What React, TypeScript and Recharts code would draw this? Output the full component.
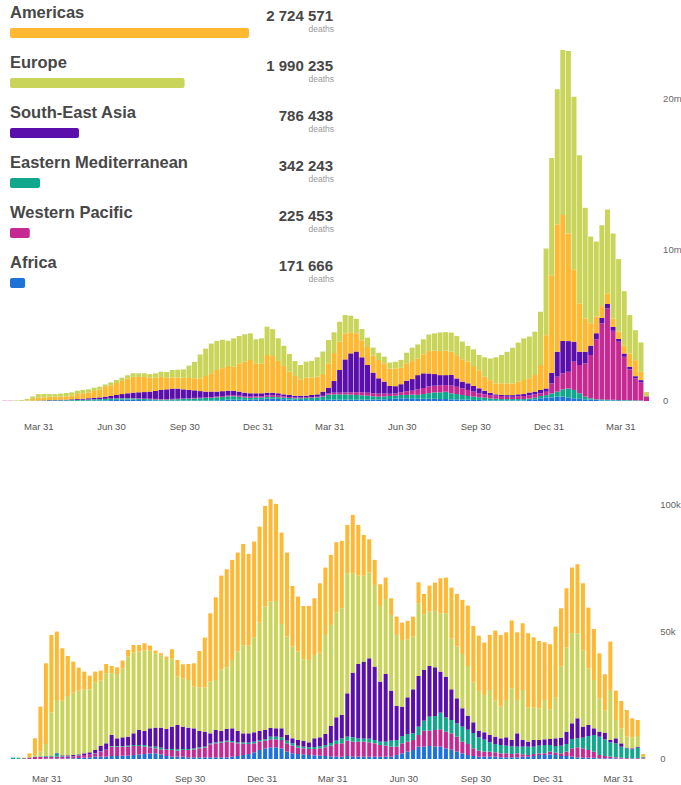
import { BarChart, Bar, XAxis, YAxis, LabelList, Cell } from 'recharts';

// regions as listed in the legend, with cumulative deaths
const regionNames = ['Americas', 'Europe', 'South-East Asia', 'Eastern Mediterranean', 'Western Pacific', 'Africa'];
const regionColors = ['#FFB832', '#C9D55A', '#5A0FAD', '#10A88C', '#C62A92', '#1E73D8'];
const totalDeaths = [2724571, 1990235, 786438, 342243, 225453, 171666];

// weekly categories (Mondays), first week 2020-02-17
const DAY = 86400000;
const startMs = Date.UTC(2020, 1, 17);
const weekCount = 116;
const weeks = Array.from({ length: weekCount }, (_, i) => new Date(startMs + i * 7 * DAY).toISOString().slice(0, 10));

const tickDates = ['2020-03-31', '2020-06-30', '2020-09-30', '2020-12-31', '2021-03-31', '2021-06-30', '2021-09-30', '2021-12-31', '2022-03-31'];
const tickLabels = ['Mar 31', 'Jun 30', 'Sep 30', 'Dec 31', 'Mar 31', 'Jun 30', 'Sep 30', 'Dec 31', 'Mar 31'];

// weekly cases, millions
const africaCases = [
  0, 0, 0, 0, 0, 0.001, 0.003, 0.004, 0.006, 0.007,
  0.009, 0.01, 0.012, 0.015, 0.02, 0.025, 0.03, 0.035, 0.045, 0.06,
  0.075, 0.09, 0.1, 0.09, 0.07, 0.06, 0.05, 0.04, 0.035, 0.03,
  0.03, 0.03, 0.03, 0.03, 0.03, 0.03, 0.03, 0.03, 0.04, 0.05,
  0.09, 0.09, 0.09, 0.08, 0.08, 0.11, 0.12, 0.16, 0.16, 0.14,
  0.12, 0.1, 0.08, 0.07, 0.06, 0.06, 0.06, 0.07, 0.09, 0.09,
  0.09, 0.09, 0.09, 0.09, 0.09, 0.09, 0.09, 0.09, 0.11, 0.13,
  0.15, 0.18, 0.18, 0.18, 0.15, 0.15, 0.15, 0.15, 0.13, 0.13,
  0.11, 0.11, 0.09, 0.09, 0.07, 0.07, 0.04, 0.04, 0.04, 0.04,
  0.04, 0.04, 0.04, 0.04, 0.07, 0.11, 0.18, 0.24, 0.24, 0.29,
  0.29, 0.24, 0.18, 0.18, 0.11, 0.09, 0.07, 0.04, 0.04, 0.04,
  0.04, 0.02, 0.02, 0.02, 0.02, 0,
];
const emCases = [
  0, 0.001, 0.008, 0.01, 0.008, 0.015, 0.02, 0.025, 0.035, 0.035,
  0.045, 0.04, 0.05, 0.055, 0.06, 0.07, 0.08, 0.085, 0.09, 0.09,
  0.09, 0.085, 0.08, 0.08, 0.075, 0.07, 0.065, 0.065, 0.065, 0.07,
  0.08, 0.09, 0.11, 0.12, 0.14, 0.15, 0.17, 0.18, 0.2, 0.22,
  0.22, 0.22, 0.19, 0.15, 0.13, 0.12, 0.11, 0.11, 0.11, 0.11,
  0.1, 0.1, 0.1, 0.11, 0.13, 0.16, 0.18, 0.22, 0.33, 0.35,
  0.35, 0.35, 0.33, 0.31, 0.29, 0.26, 0.22, 0.2, 0.2, 0.2,
  0.2, 0.22, 0.22, 0.24, 0.26, 0.31, 0.37, 0.42, 0.44, 0.48,
  0.4, 0.35, 0.31, 0.24, 0.22, 0.18, 0.18, 0.13, 0.11, 0.09,
  0.09, 0.09, 0.09, 0.09, 0.09, 0.11, 0.15, 0.15, 0.26, 0.33,
  0.48, 0.59, 0.55, 0.33, 0.18, 0.09, 0.04, 0.07, 0.04, 0.04,
  0.02, 0.04, 0.04, 0.02, 0.02, 0,
];
const wpCases = [
  0.015, 0.008, 0.004, 0.004, 0.003, 0.004, 0.004, 0.005, 0.005, 0.004,
  0.004, 0.004, 0.004, 0.005, 0.006, 0.006, 0.007, 0.008, 0.01, 0.01,
  0.012, 0.015, 0.02, 0.025, 0.03, 0.03, 0.035, 0.035, 0.03, 0.03,
  0.03, 0.03, 0.03, 0.03, 0.035, 0.035, 0.04, 0.045, 0.05, 0.06,
  0.07, 0.07, 0.07, 0.07, 0.08, 0.08, 0.09, 0.1, 0.11, 0.1,
  0.08, 0.06, 0.05, 0.05, 0.04, 0.04, 0.04, 0.05, 0.09, 0.11,
  0.11, 0.13, 0.15, 0.18, 0.2, 0.2, 0.2, 0.2, 0.18, 0.15,
  0.15, 0.18, 0.24, 0.26, 0.35, 0.4, 0.44, 0.44, 0.46, 0.44,
  0.51, 0.48, 0.44, 0.4, 0.33, 0.26, 0.22, 0.22, 0.2, 0.2,
  0.15, 0.15, 0.18, 0.2, 0.22, 0.22, 0.18, 0.22, 0.66, 0.99,
  1.06, 1.1, 1.87, 1.87, 2.2, 2.86, 3.97, 5.02, 6.04, 4.56,
  3.86, 2.86, 2.03, 1.45, 1.19, 0.29,
];
const seaCases = [
  0, 0, 0.001, 0, 0.001, 0.003, 0.004, 0.01, 0.02, 0.022,
  0.03, 0.035, 0.045, 0.055, 0.065, 0.08, 0.1, 0.11, 0.14, 0.17,
  0.22, 0.27, 0.31, 0.36, 0.4, 0.43, 0.47, 0.52, 0.6, 0.64,
  0.68, 0.67, 0.6, 0.55, 0.5, 0.44, 0.38, 0.37, 0.33, 0.32,
  0.3, 0.3, 0.27, 0.25, 0.22, 0.2, 0.19, 0.18, 0.17, 0.16,
  0.14, 0.14, 0.12, 0.12, 0.12, 0.14, 0.16, 0.28, 0.37, 0.77,
  1.5, 2.18, 2.58, 2.69, 2.31, 1.83, 1.37, 1.01, 0.79, 0.51,
  0.48, 0.53, 0.7, 0.77, 0.95, 0.97, 0.86, 0.77, 0.68, 0.66,
  0.7, 0.55, 0.44, 0.44, 0.37, 0.33, 0.24, 0.15, 0.09, 0.07,
  0.11, 0.11, 0.13, 0.13, 0.18, 0.18, 0.22, 0.22, 0.7, 1.65,
  2.14, 2.03, 1.32, 0.88, 0.77, 0.62, 0.4, 0.37, 0.29, 0.26,
  0.18, 0.22, 0.18, 0.15, 0.15, 0.02,
];
const americasCases = [
  0, 0, 0.001, 0.005, 0.03, 0.11, 0.2, 0.2, 0.22, 0.22,
  0.2, 0.22, 0.24, 0.33, 0.36, 0.37, 0.46, 0.53, 0.64, 0.71,
  0.79, 0.86, 0.97, 1.04, 1.02, 1.0, 0.92, 0.88, 0.86, 0.77,
  0.72, 0.72, 0.77, 0.79, 0.8, 0.84, 1.03, 1.21, 1.43, 1.52,
  1.63, 1.59, 1.87, 2.05, 2.2, 1.98, 1.98, 2.49, 2.42, 2.14,
  1.87, 1.54, 1.3, 1.08, 1.19, 1.15, 1.17, 1.17, 1.61, 1.85,
  1.87, 1.72, 1.39, 1.21, 1.12, 1.19, 1.12, 1.21, 1.21, 1.15,
  1.17, 1.08, 1.15, 1.19, 1.1, 1.26, 1.48, 1.54, 1.59, 1.61,
  1.54, 1.54, 1.48, 1.43, 1.32, 1.19, 0.93, 0.84, 0.73, 0.77,
  0.77, 0.77, 0.84, 0.93, 0.95, 1.1, 1.65, 3.52, 6.45, 8.42,
  8.33, 7.12, 4.78, 3.19, 2.2, 1.48, 1.1, 0.77, 0.7, 0.55,
  0.48, 0.51, 0.88, 1.06, 0.55, 0.02,
];
const europeCases = [
  0, 0.002, 0.02, 0.05, 0.09, 0.16, 0.22, 0.22, 0.17, 0.17,
  0.2, 0.22, 0.22, 0.22, 0.22, 0.22, 0.2, 0.18, 0.17, 0.19,
  0.2, 0.22, 0.22, 0.24, 0.24, 0.24, 0.24, 0.29, 0.35, 0.38,
  0.51, 0.53, 0.55, 0.82, 1.08, 1.58, 1.81, 1.96, 1.92, 1.88,
  1.67, 1.87, 1.81, 1.81, 1.76, 1.59, 1.65, 1.87, 1.78, 1.5,
  1.34, 1.17, 0.99, 0.95, 1.06, 1.1, 1.28, 1.48, 1.54, 1.37,
  1.32, 1.21, 1.1, 0.95, 0.75, 0.62, 0.53, 0.48, 0.44, 0.4,
  0.44, 0.53, 0.7, 0.88, 0.93, 0.99, 1.1, 1.15, 1.23, 1.23,
  1.26, 1.26, 1.17, 1.04, 1.1, 1.01, 1.28, 1.43, 1.72, 1.87,
  2.09, 2.36, 2.58, 2.75, 2.75, 2.86, 3.52, 5.73, 7.75, 8.92,
  10.9, 12.05, 11.41, 9.8, 7.31, 5.73, 4.96, 5.35, 5.55, 5.62,
  4.8, 3.61, 2.53, 1.98, 1.94, 0.26,
];

// weekly deaths
const africaDeaths = [
  0, 0, 0, 0, 0, 0, 130, 130, 130, 130,
  260, 260, 390, 520, 650, 920, 920, 920, 1180, 1180,
  1310, 1310, 1570, 1830, 1960, 2230, 2230, 1830, 1180, 920,
  920, 920, 650, 650, 650, 650, 650, 650, 650, 650,
  920, 1180, 1570, 1960, 2620, 3540, 4190, 4590, 4590, 4190,
  2880, 2230, 1960, 1830, 1570, 1440, 1310, 1180, 1050, 920,
  920, 1180, 920, 920, 920, 920, 920, 920, 920, 920,
  1570, 2230, 2880, 3540, 4850, 4850, 5110, 4850, 4850, 4190,
  3800, 2880, 2230, 1570, 1180, 920, 920, 920, 920, 660,
  660, 660, 660, 920, 920, 1180, 1570, 1570, 1830, 1570,
  1180, 1180, 920, 660, 520, 520, 520, 260, 260, 260,
  260, 130, 130, 130, 130, 130,
];
const wpDeaths = [
  0, 130, 260, 520, 790, 920, 790, 790, 790, 790,
  660, 790, 920, 1050, 1180, 1310, 1970, 2620, 3670, 3670,
  3540, 3540, 3540, 3280, 2880, 2360, 1970, 1970, 2360, 2620,
  2360, 2620, 2880, 3140, 3540, 3800, 5110, 5500, 5760, 6160,
  5630, 4980, 4450, 3930, 3540, 3410, 3010, 3140, 3140, 3280,
  3280, 3010, 2490, 2360, 2360, 2490, 2880, 3410, 4190, 4980,
  5240, 6030, 5900, 5900, 5900, 5630, 5240, 4590, 4320, 3930,
  3280, 3930, 3930, 3930, 4590, 6290, 6030, 6550, 6810, 6550,
  6290, 5900, 4590, 4320, 3010, 2360, 1970, 1970, 1700, 1570,
  1570, 1310, 1570, 920, 660, 790, 660, 660, 1050, 920,
  1050, 1700, 3280, 3930, 3670, 3010, 2360, 1310, 920, 660,
  390, 390, 260, 130, 260, 130,
];
const emDeaths = [
  520, 390, 130, 130, 130, 130, 260, 260, 1310, 260,
  130, 130, 130, 0, 0, 130, 130, 130, 260, 260,
  260, 390, 390, 390, 660, 260, 660, 660, 260, 390,
  660, 390, 390, 390, 390, 390, 390, 390, 390, 390,
  520, 390, 520, 520, 660, 520, 520, 1050, 1050, 1050,
  1050, 920, 790, 660, 660, 790, 790, 920, 1050, 1310,
  1970, 1570, 1700, 1310, 1180, 1440, 1310, 1310, 1570, 2360,
  2620, 2880, 3010, 2620, 3280, 3930, 5500, 5500, 6550, 5630,
  5240, 5240, 5900, 5630, 6030, 5240, 4720, 3670, 3280, 3280,
  3010, 3010, 2620, 3010, 3280, 2880, 3010, 3280, 2620, 2620,
  3010, 3010, 3670, 3540, 4190, 5500, 6550, 7210, 6550, 5630,
  5500, 4320, 3800, 3540, 4060, 130,
];
const seaDeaths = [
  0, 0, 0, 0, 0, 0, 0, 130, 130, 260,
  390, 390, 390, 660, 790, 1180, 2230, 2490, 4320, 3010,
  3410, 3540, 4590, 5900, 5500, 7210, 7470, 7860, 7990, 8780,
  9430, 8780, 8380, 7860, 6420, 5900, 3930, 4850, 4190, 4590,
  4980, 4450, 3540, 3670, 3670, 3540, 3670, 3410, 3280, 3540,
  2230, 1970, 2230, 2360, 1970, 3410, 3540, 4320, 6680, 9170,
  9170, 17030, 25410, 29210, 30260, 31570, 28820, 23580, 26590, 19650,
  13360, 11530, 14410, 17290, 19910, 19910, 19910, 19130, 16110, 15980,
  12050, 9830, 7210, 5500, 4190, 2620, 2880, 2880, 2880, 2620,
  3280, 2490, 5240, 2620, 1970, 2620, 2230, 2230, 2360, 3010,
  3140, 4850, 6160, 7860, 4320, 4320, 2620, 1970, 2620, 920,
  1970, 1310, 260, 390, 390, 260,
];
const europeDeaths = [
  0, 0, 0, 0, 660, 1830, 4720, 16900, 20830, 21480,
  23320, 24500, 25020, 25150, 24760, 26460, 25550, 27510, 24240, 25280,
  27120, 31440, 31830, 30790, 31570, 30520, 29210, 28300, 27510, 26860,
  19000, 19000, 18730, 16380, 17160, 17420, 20310, 19650, 24240, 24240,
  26860, 31180, 34450, 34450, 37340, 42580, 48470, 49650, 50040, 41000,
  38650, 36030, 34720, 31960, 32360, 32750, 33270, 38910, 39690, 41270,
  41920, 47160, 39040, 34720, 33800, 33670, 32100, 29740, 29480, 29740,
  27900, 26200, 22790, 20700, 28560, 21880, 21350, 22140, 22930, 24890,
  20040, 20310, 21350, 19520, 15590, 15590, 14670, 17690, 14150, 12450,
  14670, 20310, 13100, 19650, 13490, 12710, 12450, 15460, 11660, 15980,
  27900, 33010, 35370, 33410, 29870, 22270, 19000, 13100, 8650, 19650,
  7210, 5900, 4320, 4320, 4190, 520,
];
const americasDeaths = [
  0, 0, 130, 1570, 6550, 17690, 31700, 30520, 26860, 20570,
  15720, 12180, 9040, 6940, 5370, 4320, 3930, 3670, 2880, 2620,
  3010, 2620, 2880, 2620, 2880, 1970, 1050, 920, 920, 3540,
  6550, 5500, 6290, 9170, 14280, 19520, 26860, 32490, 36810, 38510,
  39300, 38910, 39960, 36030, 37600, 37730, 39560, 40220, 38120, 35890,
  33010, 23840, 21620, 20960, 21220, 22270, 27250, 26460, 27510, 27510,
  26460, 19000, 22930, 19910, 15980, 13100, 9830, 8520, 8380, 6550,
  7210, 6810, 7210, 7860, 8250, 7990, 10220, 11140, 13760, 14020,
  19910, 20700, 21220, 23710, 22270, 21750, 20570, 21620, 27510, 28170,
  26590, 26590, 26590, 26200, 29080, 27640, 26460, 22660, 25550, 27900,
  22930, 23320, 25810, 27120, 26460, 23840, 20040, 17690, 14280, 19000,
  11530, 10740, 10480, 7470, 6290, 790,
];

const FONT = '"Liberation Sans", Arial, sans-serif';
const colorOf = (name: string) => regionColors[regionNames.indexOf(name)];

const caseRows = weeks.map((week, i) => ({
  week,
  africa: africaCases[i],
  em: emCases[i],
  wp: wpCases[i],
  sea: seaCases[i],
  americas: americasCases[i],
  europe: europeCases[i],
}));

const deathRows = weeks.map((week, i) => ({
  week,
  africa: africaDeaths[i],
  wp: wpDeaths[i],
  em: emDeaths[i],
  sea: seaDeaths[i],
  europe: europeDeaths[i],
  americas: americasDeaths[i],
}));

const legendRows = regionNames.map((name, i) => ({ name, deaths: totalDeaths[i] }));

const tickMeta = tickDates.map((d, k) => {
  const days = Math.round((Date.parse(d) - startMs) / DAY);
  return { week: weeks[Math.floor(days / 7)], label: tickLabels[k], offsetDays: days % 7 };
});
const tickWeeks = tickMeta.map((t) => t.week);

const formatCount = (n: number) => String(n).replace(/\B(?=(\d{3})+(?!\d))/g, ' ');

function WeekTick(props: any) {
  const { x, y, payload, band } = props;
  const meta = tickMeta.find((t) => t.week === payload.value);
  if (!meta) return null;
  return (
    <text x={x + (meta.offsetDays * band) / 7} y={y} dy="0.71em" textAnchor="middle" fontSize={9.5} fill="#555" fontFamily={FONT}>
      {meta.label}
    </text>
  );
}

const renderLegendLabel = (props: any) => {
  const box = props.viewBox ?? props;
  const row = legendRows.find((r) => r.name === props.value);
  if (!row) return null;
  return (
    <g fontFamily={FONT}>
      <text x={box.x} y={box.y - 9.7} fontSize={16.5} fontWeight={700} fill="#474747">
        {row.name}
      </text>
      <text x={333} y={box.y - 7.3} textAnchor="end" fontSize={15} fontWeight={700} fill="#474747">
        {formatCount(row.deaths)}
      </text>
      <text x={334} y={box.y + 3.6} textAnchor="end" fontSize={8.5} fill="#9a9a9a">
        deaths
      </text>
    </g>
  );
};

const casesOrder = ['africa', 'em', 'wp', 'sea', 'americas', 'europe'];
const deathsOrder = ['africa', 'wp', 'em', 'sea', 'europe', 'americas'];
const keyToRegion: Record<string, string> = {
  africa: 'Africa',
  em: 'Eastern Mediterranean',
  wp: 'Western Pacific',
  sea: 'South-East Asia',
  americas: 'Americas',
  europe: 'Europe',
};

export default function App() {
  return (
    <div style={{ position: 'absolute', left: 0, top: 0, width: 681, height: 785, background: '#fff', fontFamily: FONT }}>
      <div style={{ position: 'absolute', left: 0, top: 0 }}>
        <BarChart width={681} height={440} data={caseRows} margin={{ top: 37.9, right: 1.9, bottom: 9, left: 1.8 }} barCategoryGap={0.5}>
          <XAxis dataKey="week" ticks={tickWeeks} interval={0} axisLine={false} tickLine={false} height={30} tickMargin={16} tick={<WeekTick band={5.58} />} />
          <YAxis
            orientation="right"
            domain={[0, 24]}
            ticks={[0, 10, 20]}
            axisLine={false}
            tickLine={false}
            width={30}
            tickMargin={8}
            tick={{ fontSize: 9.5, fill: '#666', fontFamily: FONT }}
            tickFormatter={(v: number) => (v === 0 ? '0' : `${v}m`)}
          />
          {casesOrder.map((k) => (
            <Bar key={k} dataKey={k} stackId="cases" fill={colorOf(keyToRegion[k])} isAnimationActive={false} />
          ))}
        </BarChart>
      </div>
      <div style={{ position: 'absolute', left: 0, top: 440 }}>
        <BarChart width={681} height={345} data={deathRows} margin={{ top: 39, right: 4.8, bottom: 6, left: 10.5 }} barCategoryGap={0.5}>
          <XAxis dataKey="week" ticks={tickWeeks} interval={0} axisLine={false} tickLine={false} height={20} tickMargin={10} tick={<WeekTick band={5.48} />} />
          <YAxis
            orientation="right"
            domain={[0, 110000]}
            ticks={[0, 50000, 100000]}
            axisLine={false}
            tickLine={false}
            width={30}
            tickMargin={8}
            tick={{ fontSize: 9.5, fill: '#666', fontFamily: FONT }}
            tickFormatter={(v: number) => (v === 0 ? '0' : `${v / 1000}k`)}
          />
          {deathsOrder.map((k) => (
            <Bar key={k} dataKey={k} stackId="deaths" fill={colorOf(keyToRegion[k])} isAnimationActive={false} />
          ))}
        </BarChart>
      </div>
      <div style={{ position: 'absolute', left: 0, top: 0 }}>
        <BarChart width={340} height={310} data={legendRows} layout="vertical" margin={{ top: 8, right: 91, bottom: 2, left: 10 }}>
          <XAxis type="number" hide domain={[0, totalDeaths[0]]} />
          <YAxis type="category" dataKey="name" hide />
          <Bar dataKey="deaths" barSize={10} radius={2} isAnimationActive={false}>
            {legendRows.map((r) => (
              <Cell key={r.name} fill={colorOf(r.name)} />
            ))}
            <LabelList dataKey="name" content={renderLegendLabel} />
          </Bar>
        </BarChart>
      </div>
    </div>
  );
}
